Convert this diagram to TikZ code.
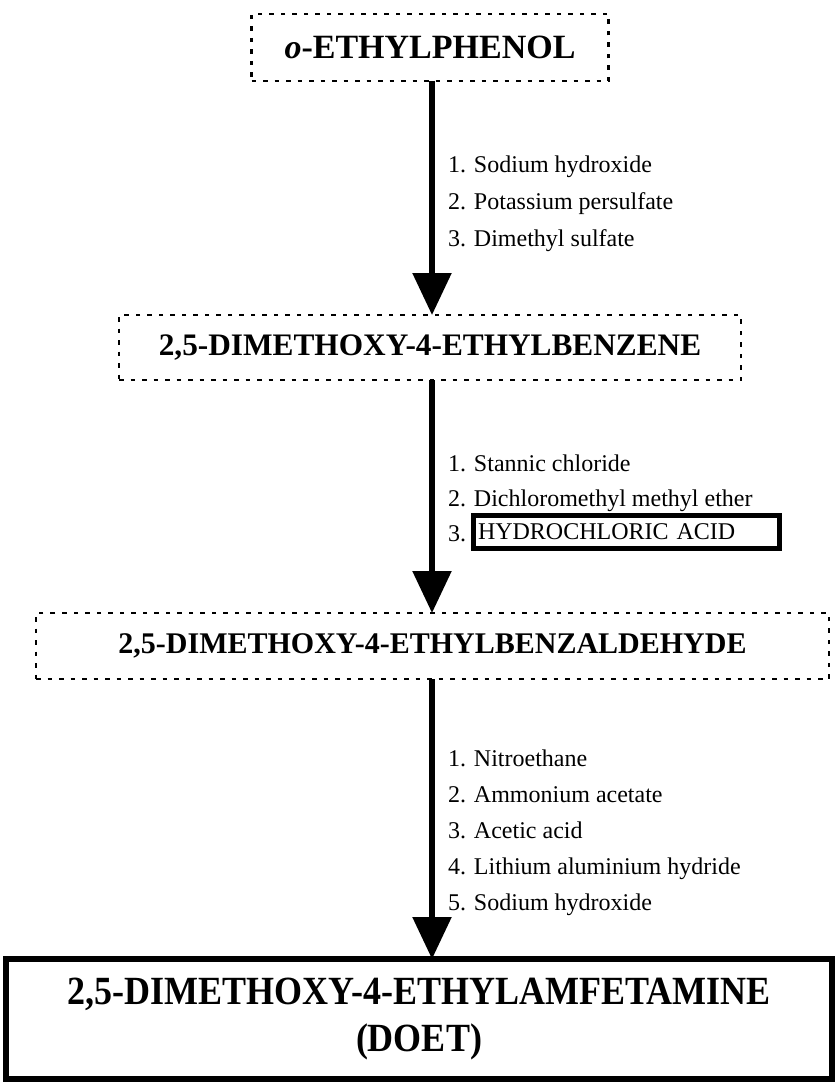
\documentclass[tikz,border=0pt]{standalone}
\usepackage{fontspec}
\setmainfont{Liberation Serif}
\newfontfamily\condbold[FakeStretch=0.9]{Liberation Serif Bold}
\usetikzlibrary{arrows.meta}
\begin{document}
\begin{tikzpicture}[x=1pt,y=-1pt,
  every node/.style={outer sep=0pt},
  dotbox/.style={draw, line width=2.6pt, dash pattern=on 4.5pt off 7pt, inner sep=0pt},
  reagent/.style={font=\fontsize{24}{30}\selectfont, anchor=base west, inner sep=0pt},
  flow/.style={line width=5.5pt, -{Triangle[length=42pt,width=38pt]}},
  ]
\useasboundingbox (0,0) rectangle (838,1091);

% reaction axis
\coordinate (axis) at (432,0);

% intermediates
\node[dotbox, minimum width=357pt, minimum height=67pt,
      font=\fontsize{34}{38}\selectfont\bfseries] (phenol) at (430,47.5) {\textit{o}-ETHYLPHENOL};
\node[dotbox, minimum width=622pt, minimum height=65pt,
      font=\fontsize{31.3}{36}\selectfont\bfseries] (benz) at (430,347.5) {2,5-DIMETHOXY-4-ETHYLBENZENE};
\node[dotbox, minimum width=793pt, minimum height=66pt,
      font=\fontsize{30}{36}\selectfont\bfseries] (ald) at (432.5,646) {2,5-DIMETHOXY-4-ETHYLBENZALDEHYDE};

% product
\node[draw, line width=6pt, minimum width=826pt, minimum height=120pt, align=center,
      font=\fontsize{40}{47}\condbold] (doet) at (419,1019)
      {2,5-DIMETHOXY-4-ETHYLAMFETAMINE\\(DOET)};

% arrows
\draw[flow] (phenol.south -| axis) -- (benz.north -| axis);
\draw[flow] (benz.south -| axis) -- (ald.north -| axis);
\draw[flow] (ald.south -| axis) -- (doet.north -| axis);

% step 1 reagents
\node[reagent] (a1) at (448,173) {1. Sodium hydroxide};
\node[reagent] (a2) at (448,210) {2. Potassium persulfate};
\node[reagent] (a3) at (448,247) {3. Dimethyl sulfate};

% step 2 reagents
\node[reagent] (b1) at (448,471) {1. Stannic chloride};
\node[reagent] (b2) at (448,506) {2. Dichloromethyl methyl ether};
\node[reagent] (b3) at (448,541) {3.};
\node[draw, line width=5pt, minimum width=306pt, minimum height=33pt, inner xsep=5pt,
      text width=296pt, align=left, font=\fontsize{24}{30}\selectfont] (hcl) at (626,532) {HYDROCHLORIC ACID};

% step 3 reagents
\node[reagent] (c1) at (448,766) {1. Nitroethane};
\node[reagent] (c2) at (448,802) {2. Ammonium acetate};
\node[reagent] (c3) at (448,838) {3. Acetic acid};
\node[reagent] (c4) at (448,874) {4. Lithium aluminium hydride};
\node[reagent] (c5) at (448,910) {5. Sodium hydroxide};
\end{tikzpicture}
\end{document}
